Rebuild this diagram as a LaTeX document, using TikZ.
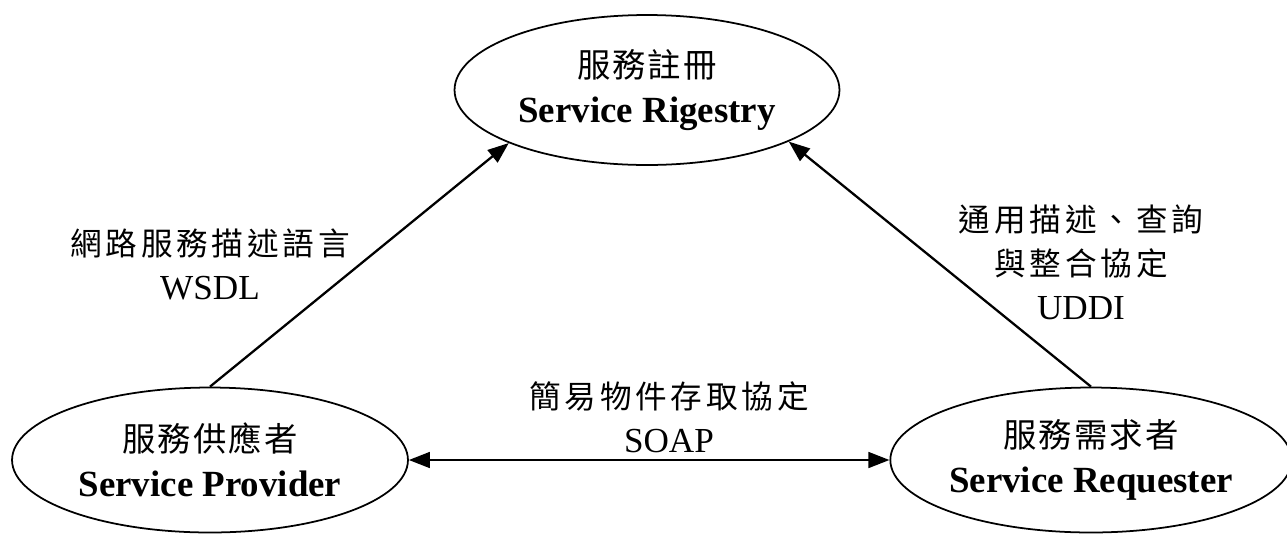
\documentclass[tikz,border=0pt]{standalone}
\usepackage{fontspec}
\setmainfont{Liberation Serif}
\newfontfamily\cjk[LetterSpace=12]{Noto Sans CJK TC}
\newfontfamily\cjkhead[LetterSpace=6]{Noto Sans CJK TC}
\newcommand\zh[1]{{\cjk\fontsize{18}{25}\selectfont #1}}
\newcommand\zhhead[1]{{\cjkhead\mdseries\fontsize{19}{25.5}\selectfont #1}}
\usetikzlibrary{arrows.meta,shapes.geometric}

\begin{document}
\begin{tikzpicture}[x=0.02cm, y=-0.02cm,
    >={Triangle[length=12pt,width=9pt]},
    role/.style={ellipse, draw, line width=1pt, inner sep=0pt, align=center,
      font=\fontsize{21}{25.5}\selectfont\bfseries},
    link/.style={line width=1.3pt},
    note/.style={align=center, font=\fontsize{20}{25}\selectfont}]
  \useasboundingbox (0,0) rectangle (1287,535);

  \node[role, minimum width=7.7cm, minimum height=3cm] (reg) at (647,90)
    {\zhhead{服務註冊}\\Service Rigestry};
  \node[role, minimum width=7.92cm, minimum height=2.9cm] (prov) at (210,460)
    {\zhhead{服務供應者}\\Service Provider};
  \node[role, minimum width=7.8cm, minimum height=2.9cm] (req) at (1091,460)
    {\zhhead{服務需求者}\\Service Requester};

  % publish, find, bind
  \draw[link, ->] (prov.north) -- (reg.201);
  \draw[link, ->] (req.north) -- (reg.340);
  \draw[link, <->] (prov.east) -- (req.west);

  \node[note] (wsdl) at (210,264) {\zh{網路服務描述語言}\\WSDL};
  \node[note] (uddi) at (1081,262) {\zh{通用描述、查詢}\\\zh{與整合協定}\\UDDI};
  \node[note] (soap) at (669,417) {\zh{簡易物件存取協定}\\SOAP};
\end{tikzpicture}
\end{document}
